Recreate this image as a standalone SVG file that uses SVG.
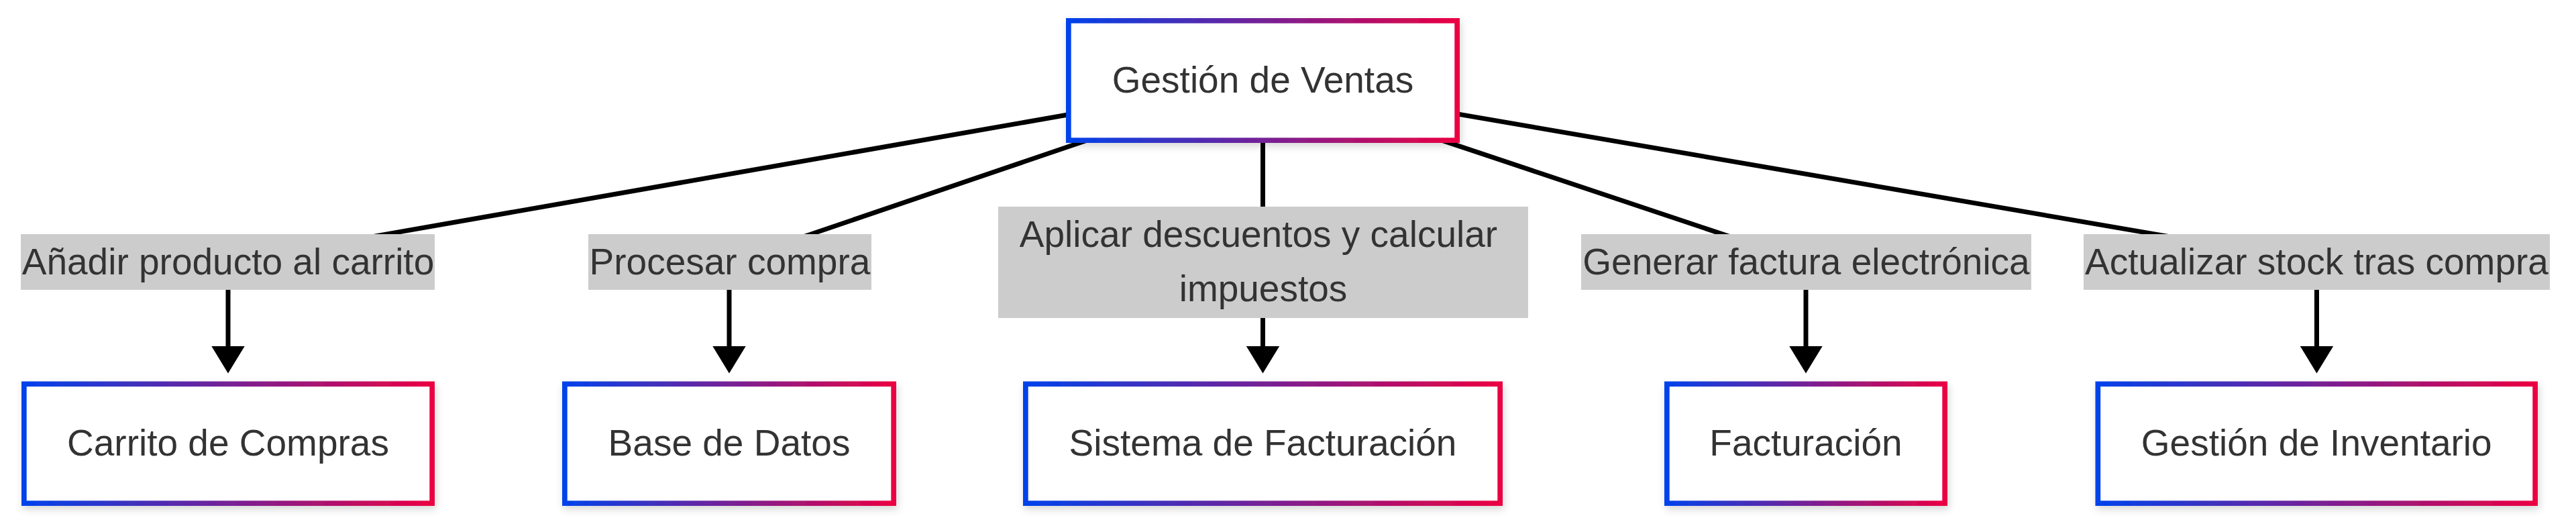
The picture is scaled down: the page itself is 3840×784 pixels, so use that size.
<svg xmlns="http://www.w3.org/2000/svg" width="3840" height="784" viewBox="0 0 3840 784">
  <style>
    .node rect { fill: #ffffff; stroke: url(#grad); stroke-width: 7.7; filter: url(#shadow); }
    .node text, .label text { font-family: "Liberation Sans", Arial, sans-serif; font-size: 55px; fill: #333333; text-anchor: middle; }
    .edge { fill: none; stroke: #000000; stroke-width: 7; marker-end: url(#arrow); }
    .label rect { fill: #cccccc; }
  </style>
  <defs>
    <linearGradient id="grad" x1="0" y1="0" x2="1" y2="0">
      <stop offset="0" stop-color="#0042eb"/>
      <stop offset="1" stop-color="#eb0042"/>
    </linearGradient>
    <filter id="shadow" x="-10%" y="-20%" width="120%" height="150%">
      <feDropShadow dx="2" dy="5" stdDeviation="6" flood-color="#000000" flood-opacity="0.16"/>
    </filter>
    <marker id="arrow" markerUnits="userSpaceOnUse" viewBox="0 0 41 50" refX="0.5" refY="25" markerWidth="41" markerHeight="50" orient="auto">
      <path d="M0,0 L41,25 L0,50 Z" fill="#000000"/>
    </marker>
  </defs>
  <rect x="0" y="0" width="3840" height="784" fill="#ffffff"/>

  <g id="connectors">
    <path class="edge" d="M1882.5,120 L340,390.5 L340,516"/>
    <path class="edge" d="M1882.5,120 L1087,390.5 L1087,516"/>
    <path class="edge" d="M1882.5,120 L1882.5,390.5 L1882.5,516"/>
    <path class="edge" d="M1882.5,120 L2692,390.5 L2692,516"/>
    <path class="edge" d="M1882.5,120 L3453.5,390.5 L3453.5,516"/>
  </g>

  <g id="edge-labels">
    <g class="label" id="label-carrito">
      <rect x="31" y="349" width="617" height="83"/>
      <text x="340" y="408.5">Añadir producto al carrito</text>
    </g>
    <g class="label" id="label-procesar">
      <rect x="877" y="349" width="422" height="83"/>
      <text x="1088" y="408.5">Procesar compra</text>
    </g>
    <g class="label" id="label-aplicar">
      <rect x="1488" y="308" width="790" height="166"/>
      <text x="1876" y="367.5">Aplicar descuentos y calcular</text>
      <text x="1883" y="449">impuestos</text>
    </g>
    <g class="label" id="label-generar">
      <rect x="2357" y="349" width="671" height="83"/>
      <text x="2692.5" y="408.5">Generar factura electrónica</text>
    </g>
    <g class="label" id="label-actualizar">
      <rect x="3106" y="349" width="695" height="83"/>
      <text x="3453.5" y="408.5">Actualizar stock tras compra</text>
    </g>
  </g>

  <g class="node" id="node-ventas">
    <rect x="1592.85" y="30.85" width="579.3" height="178.3"/>
    <text x="1882.5" y="138">Gestión de Ventas</text>
  </g>
  <g class="node" id="node-carrito">
    <rect x="35.85" y="572.35" width="608.3" height="177.8"/>
    <text x="340" y="679">Carrito de Compras</text>
  </g>
  <g class="node" id="node-base-datos">
    <rect x="841.85" y="572.35" width="490.3" height="177.8"/>
    <text x="1087" y="679">Base de Datos</text>
  </g>
  <g class="node" id="node-sistema-facturacion">
    <rect x="1528.85" y="572.35" width="707.3" height="177.8"/>
    <text x="1882.5" y="679">Sistema de Facturación</text>
  </g>
  <g class="node" id="node-facturacion">
    <rect x="2484.85" y="572.35" width="414.3" height="177.8"/>
    <text x="2692" y="679">Facturación</text>
  </g>
  <g class="node" id="node-inventario">
    <rect x="3127.35" y="572.35" width="651.8" height="177.8"/>
    <text x="3453.25" y="679">Gestión de Inventario</text>
  </g>
</svg>
